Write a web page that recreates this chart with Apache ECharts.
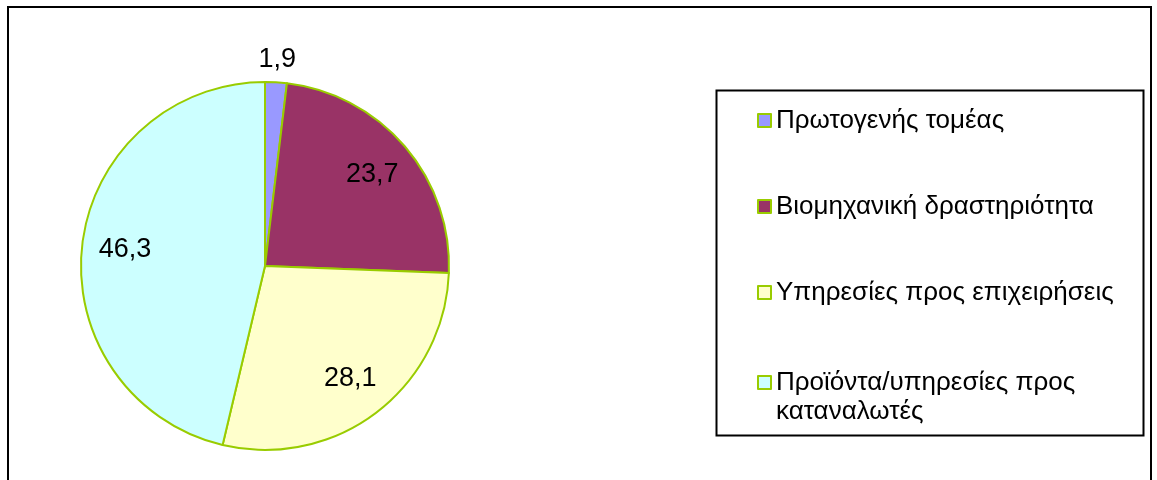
<!DOCTYPE html>
<html>
<head>
<meta charset="utf-8">
<script src="https://cdn.jsdelivr.net/npm/echarts@6/dist/echarts.min.js"></script>
<style>
    html, body { margin: 0; padding: 0; background: #ffffff; }
    #frame { position: absolute; left: 7px; top: 6px; width: 1145px; height: 490px; border: 2px solid #000; box-sizing: border-box; }
    #chart { position: absolute; left: 0; top: 0; width: 1157px; height: 480px; }
</style>
</head>
<body>
<div id="frame"></div>
<div id="chart"></div>
<script>
// sectors, clockwise from 12 o'clock
var categories = ['Πρωτογενής τομέας', 'Βιομηχανική δραστηριότητα', 'Υπηρεσίες προς επιχειρήσεις', 'Προϊόντα/υπηρεσίες προς καταναλωτές'];
var values = [1.9, 23.7, 28.1, 46.3];
var colors = ['#9999FF', '#993366', '#FFFFCC', '#CCFFFF'];

var font = 'Liberation Sans, Arial, sans-serif';
var edge = '#99CC00';

function fmt(p) {
    return String(p.value).replace('.', ',');
}

var pieData = values.map(function (v, i) {
    return { name: categories[i], value: v, itemStyle: { color: colors[i] } };
});

// transparent copies of the pie that only carry the value labels
var innerLabels = values.map(function (v, i) {
    return { name: categories[i], value: v, label: { show: i > 0 } };
});
var outerLabels = values.map(function (v, i) {
    return { name: categories[i], value: v, label: { show: i === 0 } };
});

var labelSeries = function (radius, data) {
    return {
        type: 'pie',
        silent: true,
        startAngle: 90,
        center: [265, 266],
        radius: radius,
        itemStyle: { color: 'rgba(0,0,0,0)', borderWidth: 0 },
        label: { position: 'inside', formatter: fmt, color: '#000', fontFamily: font, fontSize: 27 },
        labelLine: { show: false },
        emphasis: { disabled: true },
        data: data
    };
};

var legendText = { fontFamily: font, fontSize: 26, lineHeight: 29, color: '#000' };

var chart = echarts.init(document.getElementById('chart'));
chart.setOption({
    animation: false,
    backgroundColor: 'transparent',
    legend: [{
        orient: 'vertical',
        left: 757,
        top: 106,
        padding: 0,
        itemGap: 57,
        itemWidth: 13,
        itemHeight: 13,
        icon: 'rect',
        selectedMode: false,
        textStyle: legendText,
        data: categories.slice(0, 3)
    }, {
        orient: 'vertical',
        left: 757,
        top: 339,
        padding: 0,
        itemWidth: 13,
        itemHeight: 13,
        icon: 'rect',
        selectedMode: false,
        // leading blank line keeps the swatch level with the first line
        formatter: function (name) {
            return '\n' + name.replace(' καταναλωτές', '\nκαταναλωτές');
        },
        textStyle: legendText,
        data: categories.slice(3)
    }],
    graphic: [{
        type: 'rect',
        left: 714,
        top: 88,
        shape: { width: 427, height: 345 },
        style: { fill: 'none', stroke: '#000', lineWidth: 2 },
        z: -1
    }],
    series: [{
        type: 'pie',
        startAngle: 90,
        center: [265, 266],
        radius: 184,
        itemStyle: { borderColor: edge, borderWidth: 2 },
        label: { show: false },
        labelLine: { show: false },
        emphasis: { disabled: true },
        data: pieData
    },
    labelSeries([92, 184], innerLabels),
    labelSeries([195, 213], outerLabels)]
});
</script>
</body>
</html>
